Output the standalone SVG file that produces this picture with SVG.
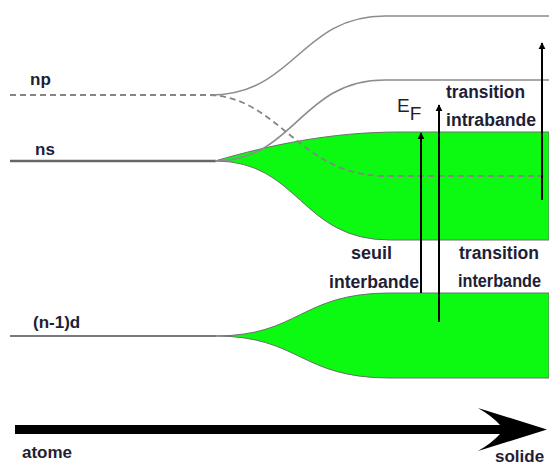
<svg xmlns="http://www.w3.org/2000/svg" width="549" height="467" viewBox="0 0 549 467">
<defs>
<style>
.lbl{font-family:"Liberation Sans","DejaVu Sans",sans-serif;font-weight:bold;font-size:17px;fill:#1e1e36}
.big{font-size:18px}
.lvl{fill:none;stroke:#8c8c8c;stroke-width:1.6}
.dash{fill:none;stroke:#858585;stroke-width:1.8;stroke-dasharray:6,4}
.band{fill:#0cfa12;stroke:#6e6e6e;stroke-width:1}
.arr{stroke:#000;stroke-width:2;fill:none}
</style>
<marker id="ah2" viewBox="0 0 10 10" refX="9" refY="5" markerWidth="7" markerHeight="8" orient="auto" markerUnits="userSpaceOnUse">
<path d="M0,0 L10,5 L0,10 Z" fill="#000"/>
</marker>
</defs>
<rect width="549" height="467" fill="#fff"/>

<g id="band-d">
<path class="band" d="M215,336 C300,336 300,293 390,293 L549,293 L549,378 L390,378 C300,378 300,336 215,336 Z"/>
<path d="M10,336 L216,336" stroke="#7a7a7a" stroke-width="2" fill="none"/>
<text class="lbl" x="33" y="328">(n-1)d</text>
</g>

<g id="band-s">
<path class="band" d="M215,161 C270,145 330,132 400,132 L549,132 L549,240 L390,240 C300,240 300,161 215,161 Z"/>
<path d="M10,161 L216,161" stroke="#666" stroke-width="2.4" fill="none"/>
<path class="lvl" d="M215,161 C295,161 300,80 385,80 L549,80"/>
<text class="lbl" x="35" y="155">ns</text>
</g>

<g id="level-p">
<path class="dash" d="M10,95 L210,95 C280,98 300,176 385,176 L549,176"/>
<path class="lvl" d="M210,95 C295,95 300,16 385,16 L549,16"/>
<text class="lbl" x="30" y="85">np</text>
</g>

<g id="fermi">
<text font-family="'Liberation Sans','DejaVu Sans',sans-serif" font-size="19" fill="#1e1e36" x="397" y="112">E<tspan dy="8">F</tspan></text>
</g>

<g id="labels">
<text class="lbl big" x="446" y="98" textLength="79" lengthAdjust="spacingAndGlyphs">transition</text>
<text class="lbl big" x="446" y="126" textLength="90" lengthAdjust="spacingAndGlyphs">intrabande</text>
<text class="lbl big" x="351" y="259" textLength="41" lengthAdjust="spacingAndGlyphs">seuil</text>
<text class="lbl big" x="329" y="288" textLength="90" lengthAdjust="spacingAndGlyphs">interbande</text>
<text class="lbl big" x="459" y="259" textLength="80" lengthAdjust="spacingAndGlyphs">transition</text>
<text class="lbl big" x="458" y="287" textLength="83" lengthAdjust="spacingAndGlyphs">interbande</text>
<text class="lbl" x="22" y="458">atome</text>
<text class="lbl" x="495" y="462">solide</text>
</g>

<g id="connectors">
<line class="arr" x1="421" y1="293" x2="421" y2="133" marker-end="url(#ah2)"/>
<line class="arr" x1="439" y1="322" x2="439" y2="105" marker-end="url(#ah2)"/>
<line class="arr" x1="542" y1="200" x2="542" y2="43" marker-end="url(#ah2)"/>
<path d="M15,425 L500,425 Q492,416 478,408 L547,429.5 L478,451 Q492,443 500,434 L15,434 Z" fill="#000"/>
</g>
</svg>
